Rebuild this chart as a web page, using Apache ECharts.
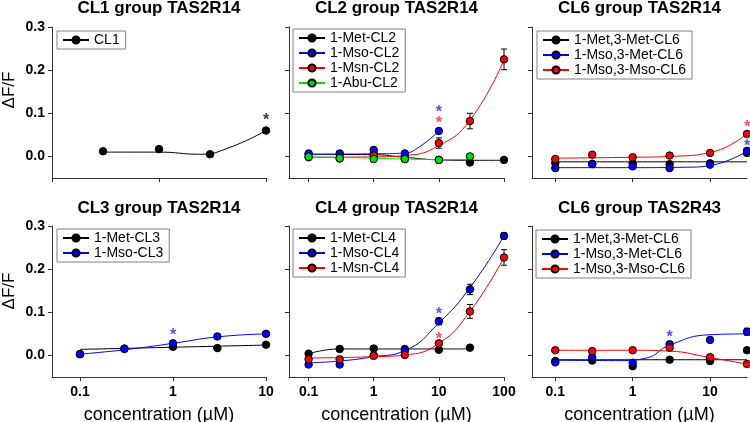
<!DOCTYPE html>
<html lang="en">
<head>
<meta charset="UTF-8" />
<title>TAS2R14 / TAS2R43 responses</title>
<script src="https://cdn.jsdelivr.net/npm/echarts@6/dist/echarts.min.js"></script>
<style>
  html, body { margin: 0; padding: 0; background: #fff; }
  #main { width: 750px; height: 422px; }
</style>
</head>
<body>
<div id="main"></div>
<script>
// ---- data (x = concentration in µM, y = ΔF/F) ----
const conc7 = [0.1, 0.3, 1, 3, 10, 30, 100];
const conc6 = [0.1, 0.3, 1, 3, 10, 30];
const conc5 = [0.1, 0.3, 1, 3, 10];

// CL1 group TAS2R14
const cl1X = [0.3, 1, 3, 10];
const cl1Y = [0.012, 0.017, 0.005, 0.060];
const cl1Err = [0.003, 0.003, 0.003, 0.004];
const cl1FitX = [0.3, 1, 2.4, 4.6, 10];
const cl1FitY = [0.010, 0.010, 0.005, 0.021, 0.060];

// CL2 group TAS2R14
const cl2MetY = [0.005, 0.005, 0.006, 0.001, -0.008, -0.014, -0.008];
const cl2MsoY = [0.007, 0.007, 0.015, 0.007, 0.059];
const cl2MsnY = [-0.002, -0.005, 0.002, -0.006, 0.031, 0.082, 0.225];
const cl2MsnErr = [0.003, 0.003, 0.004, 0.004, 0.012, 0.018, 0.024];
const cl2AbuY = [-0.001, -0.004, -0.006, -0.006, -0.008, 0.000];
const cl2MetFitX = [0.1, 1, 3, 10, 30, 100];
const cl2MetFitY = [0.005, 0.004, -0.002, -0.008, -0.009, -0.009];
const cl2MsoFitX = [0.1, 1, 3, 5, 10];
const cl2MsoFitY = [0.005, 0.006, 0.008, 0.022, 0.059];
const cl2MsnFitX = [0.1, 1, 3, 10, 30, 100];
const cl2MsnFitY = [-0.002, -0.001, 0.002, 0.025, 0.084, 0.224];
const cl2AbuFitX = [0.1, 1, 3, 10, 30];
const cl2AbuFitY = [-0.001, -0.004, -0.006, -0.007, -0.007];

// CL6 group TAS2R14
const r14MetY = [-0.015, -0.017, -0.016, -0.018, -0.016, 0.008];
const r14MsoMetY = [-0.027, -0.018, -0.023, -0.027, -0.019, 0.013];
const r14MsoMsoY = [-0.006, 0.004, -0.002, 0.002, 0.008, 0.052];
const r14MetFitX = [0.1, 30];
const r14MetFitY = [-0.0125, -0.0125];
const r14MsoMetFitX = [0.1, 1, 5, 10, 30];
const r14MsoMetFitY = [-0.026, -0.026, -0.025, -0.021, 0.012];
const r14MsoMsoFitX = [0.1, 1, 3, 10, 30];
const r14MsoMsoFitY = [-0.004, -0.002, 0.000, 0.009, 0.052];

// CL3 group TAS2R14
const cl3MetY = [0.003, 0.016, 0.020, 0.017, 0.025];
const cl3MsoY = [0.003, 0.015, 0.028, 0.044, 0.050];
const cl3MetFitX = [0.1, 1, 10];
const cl3MetFitY = [0.014, 0.019, 0.024];
const cl3MsoFitX = [0.1, 0.3, 1, 3, 10];
const cl3MsoFitY = [0.003, 0.013, 0.028, 0.043, 0.050];

// CL4 group TAS2R14
const cl4MetY = [0.004, 0.015, 0.016, 0.015, 0.013, 0.018];
const cl4MsoY = [-0.021, -0.021, 0.000, 0.011, 0.079, 0.153, 0.277];
const cl4MsoErr = [0.004, 0.004, 0.004, 0.003, 0.008, 0.012, 0.007];
const cl4MsnY = [-0.009, -0.009, -0.001, 0.001, 0.028, 0.102, 0.227];
const cl4MsnErr = [0.003, 0.003, 0.004, 0.003, 0.005, 0.016, 0.018];
const cl4MetFitX = [0.1, 0.3, 1, 30];
const cl4MetFitY = [0.004, 0.015, 0.015, 0.015];
const cl4MsoFitX = [0.1, 0.3, 1, 3, 10, 30, 100];
const cl4MsoFitY = [-0.017, -0.013, -0.003, 0.011, 0.075, 0.157, 0.277];
const cl4MsnFitX = [0.1, 1, 3, 10, 30, 100];
const cl4MsnFitY = [-0.006, -0.003, 0.001, 0.028, 0.102, 0.227];

// CL6 group TAS2R43
const r43MetY = [-0.013, -0.012, -0.025, -0.010, -0.013, 0.012];
const r43MsoMetY = [-0.016, -0.004, -0.017, 0.026, 0.036, 0.055];
const r43MsoMetErr = [0.003, 0.003, 0.003, 0.005, 0.003, 0.008];
const r43MsoMsoY = [0.012, 0.010, 0.012, 0.018, -0.004, -0.020];
const r43MsoMsoErr = [0.004, 0.004, 0.004, 0.005, 0.004, 0.003];
const r43MetFitX = [0.1, 30];
const r43MetFitY = [-0.010, -0.010];
const r43MsoMetFitX = [0.1, 0.7, 1.5, 3, 10, 30];
const r43MsoMetFitY = [-0.011, -0.012, -0.006, 0.024, 0.048, 0.050];
const r43MsoMsoFitX = [0.1, 1, 3, 10, 30];
const r43MsoMsoFitY = [0.012, 0.012, 0.010, -0.005, -0.020];

// significance stars: [panel, x, y, colour]
const stars = [
  [0, 10, 0.093, '#000'],
  [1, 10, 0.112, '#2222ff'], [1, 10, 0.085, '#ff2222'],
  [2, 30, 0.077, '#ff2222'], [2, 30, 0.033, '#2222ff'],
  [3, 1, 0.055, '#2222ff'],
  [4, 10, 0.104, '#2222ff'], [4, 10, 0.047, '#ff2222'],
  [5, 3, 0.051, '#2222ff']
];

const titles = ['CL1 group TAS2R14', 'CL2 group TAS2R14', 'CL6 group TAS2R14',
                'CL3 group TAS2R14', 'CL4 group TAS2R14', 'CL6 group TAS2R43'];
const yTicks = [0, 0.1, 0.2, 0.3];

const BLACK = '#000000', BLUE = '#0000ff', RED = '#ff0000', GREEN = '#00dd00';
const FONT = "'Liberation Sans', Arial, sans-serif";

// layout of the six panels
const grids = [
  {left: 52, top: 27, width: 214, height: 151},
  {left: 289, top: 27, width: 215, height: 151},
  {left: 532, top: 27, width: 215, height: 151},
  {left: 52, top: 226, width: 214, height: 151},
  {left: 289, top: 226, width: 215, height: 151},
  {left: 532, top: 226, width: 215, height: 151}
];
const xRange = [[0.1, 10], [0.05, 100], [0.05, 30], [0.05, 10], [0.05, 100], [0.05, 30]];
const xTicks = [[0.1, 1, 10], [0.1, 1, 10, 100], [0.1, 1, 10], [0.1, 1, 10], [0.1, 1, 10, 100], [0.1, 1, 10]];
const legendPos = [[57, 31], [293, 29], [537, 31], [57, 229], [293, 229], [536, 230]];

function pairs(xs, ys) {
  return xs.map((x, i) => [x, ys[i]]);
}
function errRows(xs, ys, es) {
  return xs.map((x, i) => [x, ys[i] - es[i], ys[i] + es[i]]);
}

// one compound: fitted curve, data points and optional error bars
const groups = [
  {p: 0, name: 'CL1', color: BLACK, fx: cl1FitX, fy: cl1FitY, x: cl1X, y: cl1Y, e: cl1Err},

  {p: 1, name: '1-Met-CL2', color: BLACK, fx: cl2MetFitX, fy: cl2MetFitY, x: conc7, y: cl2MetY},
  {p: 1, name: '1-Mso-CL2', color: BLUE, fx: cl2MsoFitX, fy: cl2MsoFitY, x: conc5, y: cl2MsoY},
  {p: 1, name: '1-Msn-CL2', color: RED, fx: cl2MsnFitX, fy: cl2MsnFitY, x: conc7, y: cl2MsnY, e: cl2MsnErr},
  {p: 1, name: '1-Abu-CL2', color: GREEN, fx: cl2AbuFitX, fy: cl2AbuFitY, x: conc6, y: cl2AbuY},

  {p: 2, name: '1-Met,3-Met-CL6', color: BLACK, fx: r14MetFitX, fy: r14MetFitY, x: conc6, y: r14MetY},
  {p: 2, name: '1-Mso,3-Met-CL6', color: BLUE, fx: r14MsoMetFitX, fy: r14MsoMetFitY, x: conc6, y: r14MsoMetY},
  {p: 2, name: '1-Mso,3-Mso-CL6', color: RED, fx: r14MsoMsoFitX, fy: r14MsoMsoFitY, x: conc6, y: r14MsoMsoY},

  {p: 3, name: '1-Met-CL3', color: BLACK, fx: cl3MetFitX, fy: cl3MetFitY, x: conc5, y: cl3MetY},
  {p: 3, name: '1-Mso-CL3', color: BLUE, fx: cl3MsoFitX, fy: cl3MsoFitY, x: conc5, y: cl3MsoY},

  {p: 4, name: '1-Met-CL4', color: BLACK, fx: cl4MetFitX, fy: cl4MetFitY, x: conc6, y: cl4MetY},
  {p: 4, name: '1-Mso-CL4', color: BLUE, fx: cl4MsoFitX, fy: cl4MsoFitY, x: conc7, y: cl4MsoY, e: cl4MsoErr},
  {p: 4, name: '1-Msn-CL4', color: RED, fx: cl4MsnFitX, fy: cl4MsnFitY, x: conc7, y: cl4MsnY, e: cl4MsnErr},

  {p: 5, name: '1-Met,3-Met-CL6', color: BLACK, fx: r43MetFitX, fy: r43MetFitY, x: conc6, y: r43MetY},
  {p: 5, name: '1-Mso,3-Met-CL6', color: BLUE, fx: r43MsoMetFitX, fy: r43MsoMetFitY, x: conc6, y: r43MsoMetY, e: r43MsoMetErr},
  {p: 5, name: '1-Mso,3-Mso-CL6', color: RED, fx: r43MsoMsoFitX, fy: r43MsoMsoFitY, x: conc6, y: r43MsoMsoY, e: r43MsoMsoErr}
];

function renderErr(params, api) {
  const a = api.coord([api.value(0), api.value(1)]);
  const b = api.coord([api.value(0), api.value(2)]);
  const w = 3;
  const st = {stroke: '#000', lineWidth: 1};
  return {
    type: 'group',
    children: [
      {type: 'line', shape: {x1: a[0], y1: a[1], x2: b[0], y2: b[1]}, style: st},
      {type: 'line', shape: {x1: a[0] - w, y1: a[1], x2: a[0] + w, y2: a[1]}, style: st},
      {type: 'line', shape: {x1: b[0] - w, y1: b[1], x2: b[0] + w, y2: b[1]}, style: st}
    ]
  };
}

const series = [];
groups.forEach(g => {
  // fitted curve (first so the legend icon uses it)
  series.push({
    type: 'line', name: g.name, xAxisIndex: g.p, yAxisIndex: g.p,
    data: pairs(g.fx, g.fy), smooth: 0.5,
    showSymbol: false, symbol: 'circle', symbolSize: 7,
    lineStyle: {color: g.color, width: 1},
    itemStyle: {color: g.color, borderColor: '#000', borderWidth: 1},
    z: 2, silent: true, clip: false
  });
  if (g.e) {
    series.push({
      type: 'custom', name: g.name + ' err', xAxisIndex: g.p, yAxisIndex: g.p,
      data: errRows(g.x, g.y, g.e), renderItem: renderErr,
      encode: {x: 0, y: [1, 2]}, z: 3, silent: true, clip: false
    });
  }
  series.push({
    type: 'scatter', name: g.name + ' pts', xAxisIndex: g.p, yAxisIndex: g.p,
    data: pairs(g.x, g.y), symbol: 'circle', symbolSize: 7.5,
    itemStyle: {color: g.color === GREEN ? '#00e000' : g.color, borderColor: '#000', borderWidth: 1, opacity: 1},
    z: 4, silent: true, clip: false
  });
});

stars.forEach(s => {
  series.push({
    type: 'scatter', name: 'star', xAxisIndex: s[0], yAxisIndex: s[0],
    data: [[s[1], s[2]]], symbolSize: 1,
    itemStyle: {color: 'rgba(0,0,0,0)'},
    label: {show: true, position: 'inside', formatter: '*', color: s[3],
            fontSize: 16, fontWeight: 'bold', fontFamily: FONT, offset: [0, 4]},
    z: 5, silent: true, clip: false
  });
});

const panelNames = [0, 1, 2, 3, 4, 5].map(p => groups.filter(g => g.p === p).map(g => g.name));

const option = {
  animation: false,
  backgroundColor: '#fff',
  title: titles.map((t, i) => ({
    text: t,
    left: grids[i].left + grids[i].width / 2,
    top: i < 3 ? 0 : 200,
    textAlign: 'center',
    padding: 0,
    textStyle: {fontSize: 17, fontWeight: 'bold', color: '#000', fontFamily: FONT}
  })),
  legend: panelNames.map((names, i) => ({
    data: names,
    orient: 'vertical',
    left: legendPos[i][0],
    top: legendPos[i][1],
    itemWidth: 26,
    itemHeight: 9,
    itemGap: 1,
    padding: [2, 6, 2, 5],
    borderColor: '#808080',
    borderWidth: 1,
    borderRadius: 0,
    backgroundColor: '#fff',
    selectedMode: false,
    textStyle: {fontSize: 14, lineHeight: 14, color: '#000', fontFamily: FONT}
  })),
  grid: grids.map(g => Object.assign({outerBoundsMode: 'none', containLabel: false}, g)),
  xAxis: grids.map((g, i) => ({
    type: 'log', logBase: 10, gridIndex: i,
    min: xRange[i][0], max: xRange[i][1],
    name: i >= 3 ? 'concentration (µM)' : '',
    nameLocation: 'middle', nameGap: 29,
    nameTextStyle: {fontSize: 18, color: '#000', fontFamily: FONT},
    axisLine: {show: true, onZero: false, lineStyle: {color: '#333', width: 1}},
    axisTick: {show: true, length: 4, customValues: xTicks[i], lineStyle: {color: '#333'}},
    minorTick: {show: false},
    axisLabel: {show: i >= 3, customValues: xTicks[i], formatter: v => String(v),
                fontSize: 14, fontWeight: 'bold', color: '#000', fontFamily: FONT, margin: 8},
    splitLine: {show: false}
  })),
  yAxis: grids.map((g, i) => ({
    type: 'value', gridIndex: i, min: -0.05, max: 0.3,
    axisLine: {show: true, onZero: false, lineStyle: {color: '#333', width: 1}},
    axisTick: {show: true, length: 4, customValues: yTicks, lineStyle: {color: '#333'}},
    axisLabel: {show: i % 3 === 0, customValues: yTicks, formatter: v => v.toFixed(1),
                fontSize: 14, fontWeight: 'bold', color: '#000', fontFamily: FONT, margin: 7},
    splitLine: {show: false}
  })),
  graphic: [90, 291].map(cy => ({
    type: 'text', x: 9, y: cy, rotation: Math.PI / 2,
    style: {text: 'ΔF/F', fontSize: 17, fontFamily: FONT, fill: '#000',
            align: 'center', verticalAlign: 'middle'}
  })),
  series: series
};

const chart = echarts.init(document.getElementById('main'));
chart.setOption(option);
</script>
</body>
</html>
